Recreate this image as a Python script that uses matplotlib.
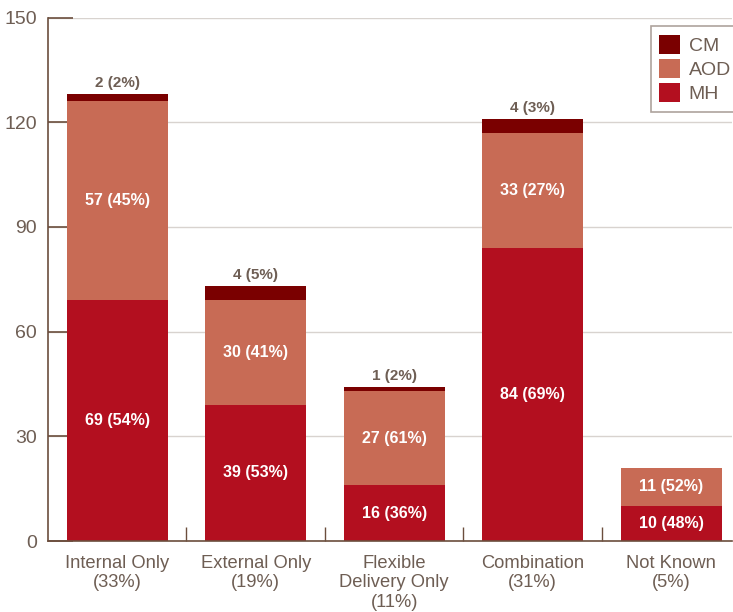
import matplotlib.pyplot as plt
import numpy as np
from matplotlib.ticker import MultipleLocator

plt.rcParams['font.family'] = ['Liberation Sans', 'DejaVu Sans']

# categories and stacked counts
labels = ['Internal Only\n(33%)', 'External Only\n(19%)', 'Flexible\nDelivery Only\n(11%)',
          'Combination\n(31%)', 'Not Known\n(5%)']
mh = [69, 39, 16, 84, 10]
aod = [57, 30, 27, 33, 11]
cm = [2, 4, 1, 4, 0]
mh_pct = [54, 53, 36, 69, 48]
aod_pct = [45, 41, 61, 27, 52]
cm_pct = [2, 5, 2, 3, 0]

c_mh = '#b30f1f'
c_aod = '#c86b55'
c_cm = '#7a0000'
txt = '#6e5e54'
axc = '#6b4e3d'

x = np.arange(len(labels))
width = 0.73

fig = plt.figure(figsize=(7.33, 6.12), dpi=100)
ax = fig.add_axes([48 / 733, 71 / 612, 684 / 733, 523.5 / 612])

b1 = ax.bar(x, mh, width, color=c_mh, label='MH', zorder=2)
b2 = ax.bar(x, aod, width, bottom=mh, color=c_aod, label='AOD', zorder=2)
base = np.array(mh) + np.array(aod)
b3 = ax.bar(x, cm, width, bottom=base, color=c_cm, label='CM', zorder=2)

# value labels
for i in range(len(x)):
    ax.text(x[i], mh[i] / 2, f'{mh[i]} ({mh_pct[i]}%)', ha='center', va='center',
            color='white', fontsize=11.5, fontweight='bold', zorder=3)
    ax.text(x[i], mh[i] + aod[i] / 2, f'{aod[i]} ({aod_pct[i]}%)', ha='center', va='center',
            color='white', fontsize=11.5, fontweight='bold', zorder=3)
    if cm[i] > 0:
        ax.text(x[i], base[i] + cm[i] + 1.2, f'{cm[i]} ({cm_pct[i]}%)', ha='center', va='bottom',
                color=txt, fontsize=11, fontweight='bold', zorder=3)

ax.set_ylim(0, 150)
ax.set_xlim(-0.5, 4.44)
ax.yaxis.set_major_locator(MultipleLocator(30))
ax.yaxis.grid(True, color='#d8d3cf', linewidth=1, zorder=0)
ax.set_axisbelow(True)

ax.set_xticks(x)
ax.set_xticklabels(labels, fontsize=13.2, color=txt)
ax.tick_params(axis='x', length=0, pad=10)
ax.set_xticks(x[:-1] + 0.5, minor=True)
ax.tick_params(axis='x', which='minor', direction='in', length=10, color=axc, width=1)
ax.tick_params(axis='y', direction='in', length=18, color=axc, width=1.2,
               labelsize=14, labelcolor=txt, pad=8)

for s in ['top', 'right']:
    ax.spines[s].set_visible(False)
for s in ['left', 'bottom']:
    ax.spines[s].set_color(axc)
    ax.spines[s].set_linewidth(1.2)

leg = ax.legend(handles=[b3, b2, b1], loc='upper right', bbox_to_anchor=(1.011, 0.984),
                borderaxespad=0, fontsize=14, frameon=True, fancybox=False,
                handlelength=1.05, handleheight=1.15, labelspacing=0.2, handletextpad=0.45,
                borderpad=0.45, labelcolor=txt)
leg.get_frame().set_edgecolor('#9a8c84')
leg.get_frame().set_linewidth(1.2)

fig.savefig('out.png', dpi=100)
